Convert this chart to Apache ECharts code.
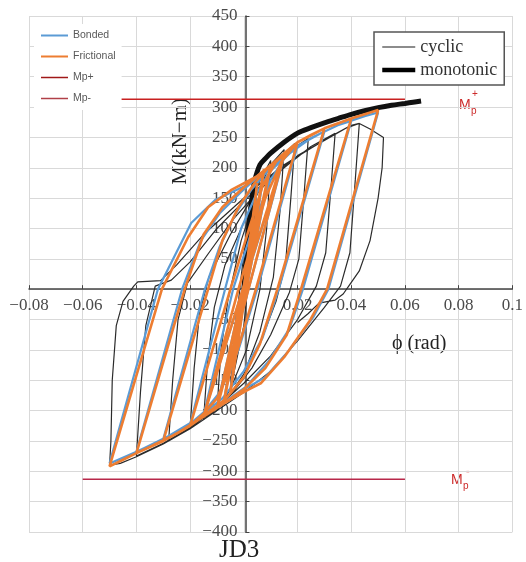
<!DOCTYPE html>
<html><head><meta charset="utf-8">
<script src="https://cdn.jsdelivr.net/npm/echarts@6/dist/echarts.min.js"></script>
<style>html,body{margin:0;padding:0;background:#fff}#c{width:526px;height:562px}</style>
</head><body><div id="c"></div>
<script>
// ---- tick values / labels ----
const xTickValues = [-0.08,-0.06,-0.04,-0.02,0,0.02,0.04,0.06,0.08,0.1];
const xTickLabels = ['\u22120.08','\u22120.06','\u22120.04','\u22120.02','','0.02','0.04','0.06','0.08','0.1'];
const yTickValues = [-400,-350,-300,-250,-200,-150,-100,-50,0,50,100,150,200,250,300,350,400,450];
const yTickLabels = ['\u2212400','\u2212350','\u2212300','\u2212250','\u2212200','\u2212150','\u2212100','\u221250','','50','100','150','200','250','300','350','400','450'];

// ---- series data: [phi (rad), M (kN-m)] ----
const cyclic = [
[0,0],[0.003,120],[0.005,170],[0.003,70],[0.0,-60],[-0.005,-165],[-0.003,-60],[0.0,60],[0.005,170],
[0.01,212],[0.0085,100],[0.006,0],[0.001,-100],[-0.005,-165],[-0.01,-198],
[-0.0085,-100],[-0.006,-20],[-0.001,80],[0.005,160],[0.01,205],[0.015,230],
[0.0135,130],[0.011,20],[0.006,-70],[0.0,-140],[-0.007,-185],[-0.015,-215],
[-0.0135,-120],[-0.011,-30],[-0.007,40],[0.0,110],[0.007,175],[0.013,215],[0.019,240],
[0.0175,150],[0.0155,40],[0.012,-20],[0.006,-90],[0.0,-145],[-0.008,-190],[-0.015,-212],[-0.02,-228],
[-0.0185,-130],[-0.0165,-40],[-0.013,20],[-0.005,90],[0.003,150],[0.01,195],[0.017,228],[0.024,248],
[0.0225,160],[0.0205,50],[0.017,-5],[0.01,-75],[0.003,-130],[-0.005,-175],[-0.015,-212],[-0.022,-235],[-0.028,-250],
[-0.0265,-150],[-0.0245,-50],[-0.021,10],[-0.013,60],[-0.004,115],[0.005,160],[0.015,200],[0.025,235],[0.034,257],
[0.0325,170],[0.0305,60],[0.027,5],[0.02,-50],[0.01,-110],[0.0,-155],[-0.01,-195],[-0.02,-228],[-0.03,-254],[-0.04,-275],
[-0.0385,-170],[-0.0365,-60],[-0.033,5],[-0.027,15],[-0.02,45],[-0.01,100],[0.0,145],[0.01,185],[0.02,220],[0.03,245],[0.038,265],[0.043,273],
[0.0415,180],[0.0395,60],[0.036,5],[0.03,-30],[0.02,-85],[0.01,-135],[0.0,-170],[-0.01,-200],[-0.02,-230],[-0.03,-255],[-0.04,-276],[-0.046,-287],[-0.05,-290],
[-0.0495,-250],[-0.049,-150],[-0.0475,-60],[-0.045,-20],[-0.041,5],[-0.0395,12],[-0.036,13],[-0.031,14],[-0.025,40],[-0.015,90],[-0.005,130],[0.005,170],[0.015,205],[0.025,232],[0.035,258],[0.04,270],[0.043,273],[0.047,264],[0.052,250],
[0.0515,200],[0.05,150],[0.047,80],[0.043,30],[0.0395,8],[0.037,-8],[0.034,-18],[0.028,-23],[0.024,-40],[0.02,-55]
];
const monotonic = [
[0,0],[0.001,60],[0.002,110],[0.003,150],[0.004,178],[0.006,205],[0.008,215],[0.01,224],[0.015,242],[0.02,257],
[0.025,266],[0.03,274],[0.035,281],[0.04,288],[0.045,294],[0.05,299],[0.055,303],[0.06,306],[0.063,308],[0.066,310]
];
const bonded = [
[0,0],[0.005,170],[-0.005,-165],[0.0075,192],[-0.0075,-185],[0.01,200],[-0.01,-193],[0.015,218],[-0.015,-208],
[-0.004,0],[0.004,110],[0.01,180],[0.015,215],[0.02,236],
[0.005,0],[-0.002,-100],[-0.009,-170],[-0.015,-203],[-0.02,-222],
[-0.007,0],[-0.001,100],[0.005,160],[0.01,195],[0.02,236],[0.03,260],
[0.013,0],[0.007,-80],[0.0,-135],[-0.008,-180],[-0.015,-205],[-0.022,-228],[-0.03,-247],
[-0.0145,0],[-0.009,70],[-0.003,125],[0.003,165],[0.009,195],[0.015,217],[0.025,249],[0.035,270],[0.04,277],
[0.022,0],[0.017,-65],[0.009,-120],[0.001,-160],[-0.008,-188],[-0.016,-210],[-0.028,-242],[-0.04,-268],
[-0.023,0],[-0.016,80],[-0.009,125],[-0.001,160],[0.006,188],[0.015,217],[0.025,249],[0.035,270],[0.045,285],[0.05,291],
[0.0315,0],[0.026,-45],[0.017,-100],[0.008,-145],[0.0,-165],[-0.008,-188],[-0.016,-210],[-0.03,-247],[-0.04,-268],[-0.05,-287],
[-0.032,0],[-0.0196,109],[-0.0107,147],[0.0004,170],[0.006,190],[0.015,217],[0.025,249],[0.035,270],[0.045,285]
];
const frictional = [
[0,0],[0.005,175],[-0.005,-170],[0.0075,198],[-0.0075,-188],[0.01,205],[-0.01,-196],[0.015,222],[-0.015,-210],
[-0.002,0],[0.008,150],[0.014,210],[0.02,242],
[0.0045,0],[-0.003,-110],[-0.01,-180],[-0.015,-205],[-0.02,-225],
[-0.005,0],[0.002,100],[0.007,170],[0.012,210],[0.02,242],[0.025,254],[0.03,265],
[0.0125,0],[0.006,-90],[0.0,-145],[-0.007,-182],[-0.013,-202],[-0.02,-225],[-0.025,-238],[-0.03,-250],
[-0.0133,0],[-0.008,80],[-0.002,135],[0.004,175],[0.009,200],[0.015,224],[0.02,242],[0.03,265],[0.035,273],[0.04,281],
[0.0213,0],[0.016,-75],[0.008,-130],[0.0,-165],[-0.008,-190],[-0.015,-210],[-0.025,-238],[-0.035,-260],[-0.04,-270],
[-0.022,0],[-0.015,90],[-0.008,135],[0.0,168],[0.006,190],[0.01,204],[0.02,242],[0.03,265],[0.04,281],[0.045,288],[0.05,295],
[0.031,0],[0.0247,-51],[0.015,-112],[0.0063,-155],[0.0015,-166],[-0.005,-182],[-0.012,-200],[-0.02,-225],[-0.03,-250],[-0.04,-270],[-0.045,-281],[-0.05,-292],
[-0.0305,0],[-0.0207,86],[-0.0133,135],[-0.0048,163],[0.005,186],[0.01,204],[0.02,242],[0.03,265],[0.04,281],[0.05,295]
];
const mpPlus = [[-0.06,313],[0.06,313]];
const mpMinus = [[-0.06,-313],[0.06,-313]];

const serif = 'Liberation Serif';
const sans = 'Liberation Sans';
const chart = echarts.init(document.getElementById('c'), null, {renderer:'canvas'});
function lookup(vals, labels, v){ const i = vals.findIndex(t => Math.abs(t - v) < 1e-9); return i >= 0 ? labels[i] : ''; }

// axis crossing offsets (move the axes so they cross at phi = 0, M = 0)
const gridBox = {left: 29, right: 10, top: 16, bottom: 30};
const plotW = 526 - gridBox.left - gridBox.right;
const plotH = 562 - gridBox.top - gridBox.bottom;
const yAxisOffset = -plotW * (0 - (-0.08)) / (0.1 - (-0.08));
const xAxisOffset = -plotH * (0 - (-400)) / (450 - (-400));
const noSymbol = {color: 'rgba(0,0,0,0)', borderWidth: 0};

chart.setOption({
  animation: false,
  backgroundColor: '#fff',
  grid: gridBox,
  xAxis: {
    type: 'value', min: -0.08, max: 0.1, interval: 0.02, offset: xAxisOffset, z: 1,
    axisLine: {onZero: false, lineStyle: {color: '#444', width: 1.5}},
    axisTick: {show: true, inside: true, length: 4, lineStyle: {color: '#444'}},
    axisLabel: {margin: 8, color: '#4a4a4a', fontFamily: serif, fontSize: 17, showMinLabel: true, showMaxLabel: true,
      formatter: v => lookup(xTickValues, xTickLabels, v)},
    splitLine: {show: true, lineStyle: {color: '#d9d9d9', width: 1}}
  },
  yAxis: {
    type: 'value', min: -400, max: 450, interval: 50, offset: yAxisOffset, z: 1,
    axisLine: {onZero: false, lineStyle: {color: '#444', width: 1.5}},
    axisTick: {show: true, inside: true, length: 4, lineStyle: {color: '#444'}},
    axisLabel: {margin: 8, color: '#4a4a4a', fontFamily: serif, fontSize: 17, showMinLabel: true, showMaxLabel: true,
      formatter: v => lookup(yTickValues, yTickLabels, v)},
    splitLine: {show: true, lineStyle: {color: '#d9d9d9', width: 1}}
  },
  legend: [
    {data: [
       {name: 'Bonded', lineStyle: {width: 2, color: '#5b9bd5'}},
       {name: 'Frictional', lineStyle: {width: 2, color: '#ed7d31'}},
       {name: 'Mp+', lineStyle: {width: 1.5, color: '#a01818'}},
       {name: 'Mp-', lineStyle: {width: 1.5, color: '#b04048'}}],
     orient: 'vertical', left: 34, top: 24, z: 20,
     itemWidth: 27, itemHeight: 12, itemGap: 10, padding: [6, 6, 6, 6], itemStyle: noSymbol,
     backgroundColor: '#fff', textStyle: {fontFamily: sans, fontSize: 10.5, color: '#595959'}},
    {data: [
       {name: 'cyclic', lineStyle: {width: 1.3, color: '#666'}},
       {name: 'monotonic', lineStyle: {width: 4.5, color: '#000'}}],
     orient: 'vertical', left: 374, top: 32, z: 20,
     itemWidth: 33, itemHeight: 14, itemGap: 5, padding: [6, 7, 6, 6], itemStyle: noSymbol,
     backgroundColor: '#fff', borderColor: '#555', borderWidth: 1.5,
     textStyle: {fontFamily: serif, fontSize: 18, color: '#333'}}
  ],
  series: [
    {name: 'cyclic', type: 'line', data: cyclic, symbol: 'none', z: 2,
     lineStyle: {color: '#2b2b2b', width: 1.2}, itemStyle: {color: '#777'}},
    {name: 'monotonic', type: 'line', data: monotonic, symbol: 'none', smooth: 0.3, z: 3,
     lineStyle: {color: '#111', width: 5}, itemStyle: {color: '#000'}},
    {name: 'Bonded', type: 'line', data: bonded, symbol: 'none', z: 4,
     lineStyle: {color: '#5b9bd5', width: 2.2}, itemStyle: {color: '#5b9bd5'}},
    {name: 'Frictional', type: 'line', data: frictional, symbol: 'none', z: 5,
     lineStyle: {color: '#ed7d31', width: 2.6}, itemStyle: {color: '#ed7d31'}},
    {name: 'Mp+', type: 'line', data: mpPlus, symbol: 'none', z: 6,
     lineStyle: {color: '#c82020', width: 1.5}, itemStyle: {color: '#a01818'}},
    {name: 'Mp-', type: 'line', data: mpMinus, symbol: 'none', z: 6,
     lineStyle: {color: '#b8284a', width: 1.5}, itemStyle: {color: '#b04048'}}
  ],
  graphic: [
    {type: 'text', left: 170, top: 98, rotation: Math.PI / 2, style: {text: 'M(kN\u2212m)', font: '21px "Liberation Serif"', fill: '#222'}},
    {type: 'text', left: 392, top: 334, style: {text: '\u03d5 (rad)', font: '20px "Liberation Serif"', fill: '#222'}},
    {type: 'text', left: 219, top: 538, style: {text: 'JD3', font: '25px "Liberation Serif"', fill: '#222'}},
    {type: 'text', left: 459, top: 98, style: {text: 'M', font: '14px "Liberation Sans"', fill: '#cc2a2a'}},
    {type: 'text', left: 471, top: 106, style: {text: 'p', font: '10px "Liberation Sans"', fill: '#cc2a2a'}},
    {type: 'text', left: 472, top: 89, style: {text: '+', font: '10px "Liberation Sans"', fill: '#cc2a2a'}},
    {type: 'text', left: 451, top: 473, style: {text: 'M', font: '14px "Liberation Sans"', fill: '#cc2a2a'}},
    {type: 'text', left: 463, top: 481, style: {text: 'p', font: '10px "Liberation Sans"', fill: '#cc2a2a'}},
    {type: 'text', left: 466, top: 465, style: {text: '-', font: 'bold 11px "Liberation Sans"', fill: '#cc2a2a'}}
  ]
});
</script></body></html>
